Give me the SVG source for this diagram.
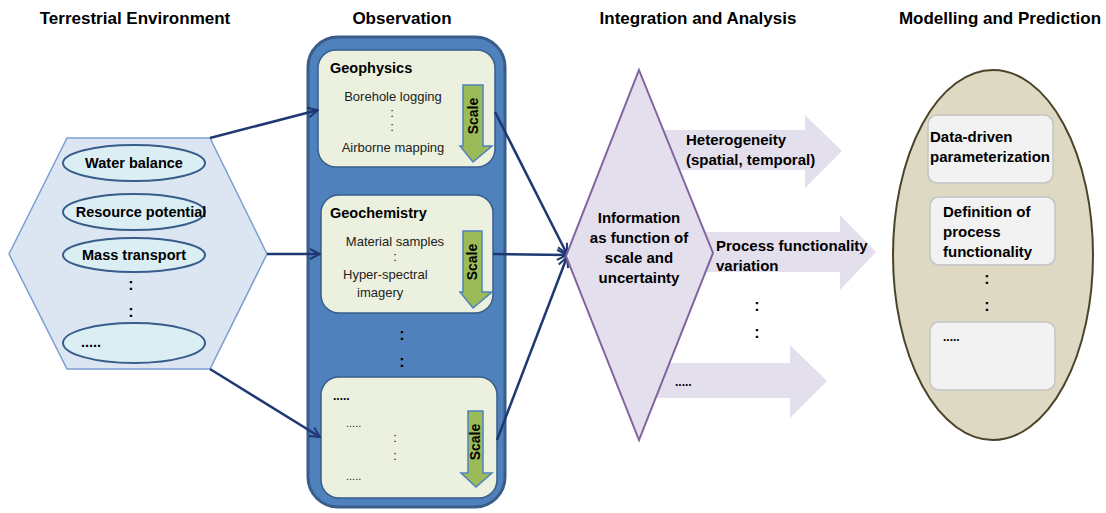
<svg xmlns="http://www.w3.org/2000/svg" width="1106" height="513" viewBox="0 0 1106 513">
<defs>
<marker id="arr" viewBox="0 0 12 12" refX="11" refY="6" markerWidth="12" markerHeight="12" markerUnits="userSpaceOnUse" orient="auto">
<path d="M1,1 L11,6 L1,11" fill="none" stroke="#1f3872" stroke-width="2"/>
</marker>
</defs>
<style>
text{font-family:"Liberation Sans",Arial,sans-serif;fill:#000}
.title{font-size:17px;font-weight:bold;text-anchor:middle}
.b{font-weight:bold;font-size:15px}
.e{font-weight:bold;font-size:14.5px}
.g{font-weight:bold;font-size:14.5px}
.n{font-size:13px;fill:#222}
.c{text-anchor:middle}
.ell{fill:#dbeef4;stroke:#385d8a;stroke-width:2}
.inner{fill:#ebf1de;stroke:#385d8a;stroke-width:1.5}
.scale{fill:#9bbb59;stroke:#4f81bd;stroke-width:1.5}
.sc{font-weight:bold;font-size:14px;text-anchor:middle}
.conn{stroke:#1f3872;stroke-width:2.5;fill:none;marker-end:url(#arr)}
.blk{fill:#e4dfec}
.mbox{fill:#f2f2f2;stroke:#c4c4c4;stroke-width:1.5}
.dots{font-weight:bold;font-size:16px;text-anchor:middle}
</style>
<rect width="1106" height="513" fill="#ffffff"/>

<g id="titles">
<text class="title" x="135" y="24">Terrestrial Environment</text>
<text class="title" x="402" y="24">Observation</text>
<text class="title" x="698" y="24">Integration and Analysis</text>
<text class="title" x="1000" y="24">Modelling and Prediction</text>
</g>

<g id="terrestrial">
<polygon points="67,138 210,138 267,254 210,369 67,369 9,254" fill="#dce6f2" stroke="#7b9fd1" stroke-width="1.5"/>
<ellipse class="ell" cx="134" cy="163" rx="71" ry="18"/>
<text class="e c" x="134" y="168">Water balance</text>
<ellipse class="ell" cx="134" cy="212" rx="71" ry="18"/>
<text class="e c" x="141" y="217">Resource potential</text>
<ellipse class="ell" cx="134" cy="255" rx="71" ry="17"/>
<text class="e c" x="134" y="260">Mass transport</text>
<text class="dots" x="131" y="290">:</text>
<text class="dots" x="131" y="317">:</text>
<ellipse class="ell" cx="134" cy="343" rx="71" ry="20"/>
<text class="e" x="81" y="347">.....</text>
</g>

<g id="observation">
<rect x="308" y="37" width="197" height="470" rx="30" fill="#4f81bd" stroke="#385d8a" stroke-width="3"/>
<g id="geophysics">
<rect class="inner" x="318" y="50" width="177" height="117" rx="18"/>
<text class="g" x="330" y="73">Geophysics</text>
<text class="n c" x="393" y="101">Borehole logging</text>
<text class="n c" x="392" y="117">:</text>
<text class="n c" x="392" y="131">:</text>
<text class="n c" x="393" y="152">Airborne mapping</text>
<polygon class="scale" points="463,85 483,85 483,146 492,146 473,162 460,146 463,146"/>
<text class="sc" transform="translate(478,116) rotate(-90)">Scale</text>
</g>
<g id="geochemistry">
<rect class="inner" x="321" y="195" width="172" height="118" rx="18"/>
<text class="g" x="330" y="218">Geochemistry</text>
<text class="n c" x="395" y="246">Material samples</text>
<text class="n c" x="395" y="261">:</text>
<text class="n" x="343" y="279">Hyper-spectral</text>
<text class="n" x="357" y="297">imagery</text>
<polygon class="scale" points="463,231 482,231 482,292 492,292 473,308 460,292 463,292"/>
<text class="sc" transform="translate(477,262) rotate(-90)">Scale</text>
</g>
<text class="dots" x="402" y="340">:</text>
<text class="dots" x="402" y="367">:</text>
<g id="obs-more">
<rect class="inner" x="321" y="377" width="176" height="121" rx="18"/>
<text class="g" x="333" y="400" style="font-size:12px">.....</text>
<text class="n" x="346" y="427" style="font-size:11px">.....</text>
<text class="n c" x="395" y="442">:</text>
<text class="n c" x="395" y="460">:</text>
<text class="n" x="346" y="480" style="font-size:11px">.....</text>
<polygon class="scale" points="468,411 483,411 483,473 492,473 476,487 461,473 468,473"/>
<text class="sc" transform="translate(480,442) rotate(-90)">Scale</text>
</g>
</g>

<g id="connectors">
<line class="conn" x1="210" y1="138" x2="318" y2="110"/>
<line class="conn" x1="267" y1="254" x2="320" y2="254"/>
<line class="conn" x1="210" y1="369" x2="320" y2="437"/>
<line class="conn" x1="495" y1="112" x2="567" y2="254"/>
<line class="conn" x1="493" y1="254" x2="567" y2="255"/>
<line class="conn" x1="497" y1="440" x2="567" y2="257"/>
</g>

<g id="analysis">
<polygon class="blk" points="650,130 805,130 805,115 842,151 805,188 805,170 650,170"/>
<polygon class="blk" points="690,232 840,232 840,215 876,252 840,290 840,272 690,272"/>
<polygon class="blk" points="650,363 790,363 790,345 827,381 790,418 790,398 650,398"/>
<polygon points="639,70 713,253 639,440 566,256" fill="#e4dfec" stroke="#8064a2" stroke-width="2"/>
<text class="b c" x="639" y="223">Information</text>
<text class="b c" x="639" y="243">as function of</text>
<text class="b c" x="639" y="263">scale and</text>
<text class="b c" x="639" y="283">uncertainty</text>
<text class="b" x="686" y="145">Heterogeneity</text>
<text class="b" x="686" y="165">(spatial, temporal)</text>
<text class="b" x="716" y="251">Process functionality</text>
<text class="b" x="716" y="271">variation</text>
<text class="dots" x="757" y="311">:</text>
<text class="dots" x="757" y="338">:</text>
<text class="b" x="675" y="386" style="font-size:12px">.....</text>
</g>

<g id="modelling">
<ellipse cx="993" cy="255" rx="100" ry="185" fill="#ddd9c3" stroke="#4a452a" stroke-width="2"/>
<g id="m1">
<rect class="mbox" x="928" y="115" width="125" height="68" rx="9"/>
<text class="b" x="930" y="142">Data-driven</text>
<text class="b" x="930" y="162">parameterization</text>
</g>
<g id="m2">
<rect class="mbox" x="930" y="197" width="125" height="68" rx="9"/>
<text class="b" x="943" y="217">Definition of</text>
<text class="b" x="943" y="237">process</text>
<text class="b" x="943" y="257">functionality</text>
</g>
<text class="dots" x="987" y="284">:</text>
<text class="dots" x="987" y="311">:</text>
<g id="m3">
<rect class="mbox" x="930" y="322" width="125" height="68" rx="9"/>
<text class="b" x="943" y="341" style="font-size:12px">.....</text>
</g>
</g>
</svg>
